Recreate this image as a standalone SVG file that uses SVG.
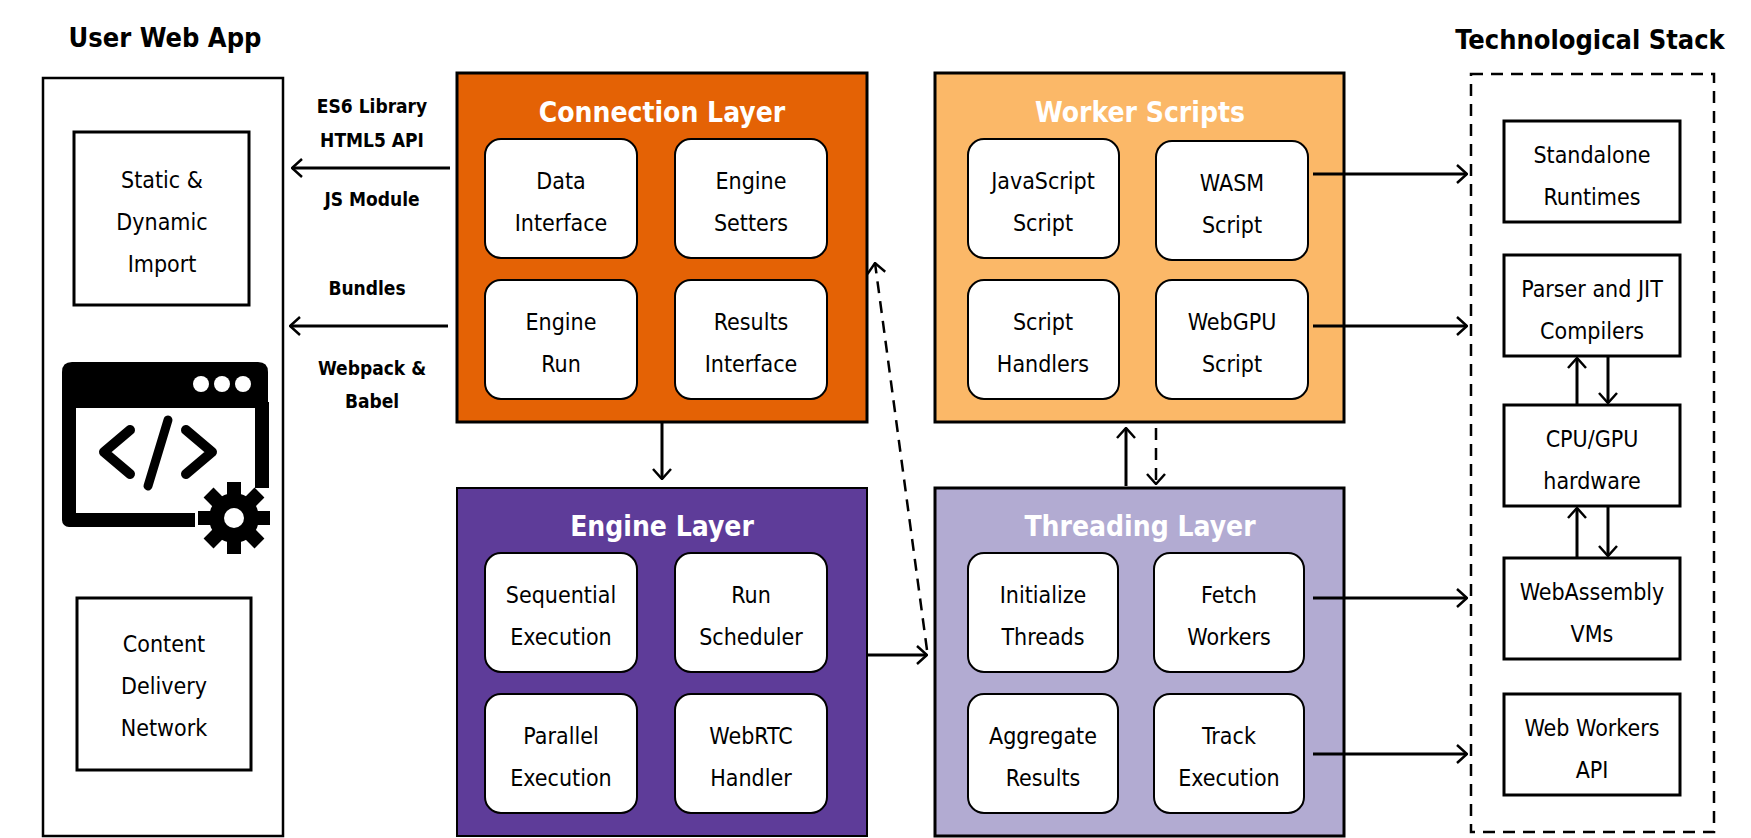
<svg xmlns="http://www.w3.org/2000/svg" width="1751" height="838" viewBox="0 0 1751 838">
<defs>
<marker id="ah" viewBox="0 0 12 20" refX="11" refY="10" markerWidth="12" markerHeight="20" markerUnits="userSpaceOnUse" orient="auto"><path d="M1,1 L11,10 L1,19" fill="none" stroke="#000" stroke-width="2.5"/></marker>
</defs>
<style>
text{font-family:"DejaVu Sans","Liberation Sans",sans-serif;font-stretch:condensed;text-anchor:middle;}
.h{font-size:27px;font-weight:bold;}
.t{font-size:28px;font-weight:bold;fill:#fff;}
.n{font-size:23px;fill:#000;}
.l{font-size:19px;font-weight:bold;}
.inner{fill:#fff;stroke:#000;stroke-width:2;}
.box{fill:#fff;stroke:#000;stroke-width:3;}
.c{fill:none;stroke:#000;stroke-width:3;}
.d{fill:none;stroke:#000;stroke-width:2.5;stroke-dasharray:12,8;}
</style>
<rect width="1751" height="838" fill="#fff"/>
<text class="h" x="165" y="47">User Web App</text>
<text class="h" x="1590" y="49">Technological Stack</text>

<g id="userapp">
<rect x="43" y="78" width="240" height="758" fill="#fff" stroke="#000" stroke-width="2.5"/>
</g>
<g id="static"><rect class="box" x="74" y="132" width="175" height="173"/>
<text class="n" x="162" y="188">Static &amp;</text><text class="n" x="162" y="230">Dynamic</text><text class="n" x="162" y="272">Import</text></g>
<g id="icon">
<path d="M72,362 L258,362 Q268,362 268,372 L268,408 L62,408 L62,372 Q62,362 72,362 Z" fill="#000"/>
<path d="M69,402 L69,520 L195,520" fill="none" stroke="#000" stroke-width="14" stroke-linejoin="round"/>
<path d="M262,402 L262,488" fill="none" stroke="#000" stroke-width="14"/>
<circle cx="201" cy="384" r="8" fill="#fff"/><circle cx="222" cy="384" r="8" fill="#fff"/><circle cx="243" cy="384" r="8" fill="#fff"/>
<path d="M130,430 L104,452 L130,474" fill="none" stroke="#000" stroke-width="10" stroke-linejoin="round" stroke-linecap="round"/>
<path d="M186,430 L212,452 L186,474" fill="none" stroke="#000" stroke-width="10" stroke-linejoin="round" stroke-linecap="round"/>
<path d="M168,420 L148,486" fill="none" stroke="#000" stroke-width="9" stroke-linecap="round"/>
<g transform="translate(234,518)">
<circle r="25" fill="#000"/>
<g fill="#000"><rect x="-7" y="-36" width="14" height="14"/><rect x="-7" y="22" width="14" height="14"/><rect x="-36" y="-7" width="14" height="14"/><rect x="22" y="-7" width="14" height="14"/>
<rect x="-7" y="-36" width="14" height="14" transform="rotate(45)"/><rect x="-7" y="22" width="14" height="14" transform="rotate(45)"/><rect x="-36" y="-7" width="14" height="14" transform="rotate(45)"/><rect x="22" y="-7" width="14" height="14" transform="rotate(45)"/></g>
<circle r="10" fill="#fff"/></g>
</g>
<g id="cdn"><rect class="box" x="77" y="598" width="174" height="172"/>
<text class="n" x="164" y="652">Content</text><text class="n" x="164" y="694">Delivery</text><text class="n" x="164" y="736">Network</text></g>

<g id="connection">
<rect x="457" y="73" width="410" height="349" fill="#E46205" stroke="#000" stroke-width="3"/>
<text class="t" x="662" y="122">Connection Layer</text>
<rect class="inner" x="485" y="139" width="152" height="119" rx="16"/><text class="n" x="561" y="189">Data</text><text class="n" x="561" y="231">Interface</text>
<rect class="inner" x="675" y="139" width="152" height="119" rx="16"/><text class="n" x="751" y="189">Engine</text><text class="n" x="751" y="231">Setters</text>
<rect class="inner" x="485" y="280" width="152" height="119" rx="16"/><text class="n" x="561" y="330">Engine</text><text class="n" x="561" y="372">Run</text>
<rect class="inner" x="675" y="280" width="152" height="119" rx="16"/><text class="n" x="751" y="330">Results</text><text class="n" x="751" y="372">Interface</text>
</g>
<g id="engine">
<rect x="457" y="488" width="410" height="348" fill="#5E3C99" stroke="#000" stroke-width="2"/>
<text class="t" x="662" y="536">Engine Layer</text>
<rect class="inner" x="485" y="553" width="152" height="119" rx="16"/><text class="n" x="561" y="603">Sequential</text><text class="n" x="561" y="645">Execution</text>
<rect class="inner" x="675" y="553" width="152" height="119" rx="16"/><text class="n" x="751" y="603">Run</text><text class="n" x="751" y="645">Scheduler</text>
<rect class="inner" x="485" y="694" width="152" height="119" rx="16"/><text class="n" x="561" y="744">Parallel</text><text class="n" x="561" y="786">Execution</text>
<rect class="inner" x="675" y="694" width="152" height="119" rx="16"/><text class="n" x="751" y="744">WebRTC</text><text class="n" x="751" y="786">Handler</text>
</g>
<g id="worker">
<rect x="935" y="73" width="409" height="349" fill="#FBB868" stroke="#000" stroke-width="3"/>
<text class="t" x="1140" y="122">Worker Scripts</text>
<rect class="inner" x="968" y="139" width="151" height="119" rx="16"/><text class="n" x="1043" y="189">JavaScript</text><text class="n" x="1043" y="231">Script</text>
<rect class="inner" x="1156" y="141" width="152" height="119" rx="16"/><text class="n" x="1232" y="191">WASM</text><text class="n" x="1232" y="233">Script</text>
<rect class="inner" x="968" y="280" width="151" height="119" rx="16"/><text class="n" x="1043" y="330">Script</text><text class="n" x="1043" y="372">Handlers</text>
<rect class="inner" x="1156" y="280" width="152" height="119" rx="16"/><text class="n" x="1232" y="330">WebGPU</text><text class="n" x="1232" y="372">Script</text>
</g>
<g id="threading">
<rect x="935" y="488" width="409" height="348" fill="#B2ABD2" stroke="#000" stroke-width="3"/>
<text class="t" x="1140" y="536">Threading Layer</text>
<rect class="inner" x="968" y="553" width="150" height="119" rx="16"/><text class="n" x="1043" y="603">Initialize</text><text class="n" x="1043" y="645">Threads</text>
<rect class="inner" x="1154" y="553" width="150" height="119" rx="16"/><text class="n" x="1229" y="603">Fetch</text><text class="n" x="1229" y="645">Workers</text>
<rect class="inner" x="968" y="694" width="150" height="119" rx="16"/><text class="n" x="1043" y="744">Aggregate</text><text class="n" x="1043" y="786">Results</text>
<rect class="inner" x="1154" y="694" width="150" height="119" rx="16"/><text class="n" x="1229" y="744">Track</text><text class="n" x="1229" y="786">Execution</text>
</g>
<g id="stack">
<rect x="1471" y="74" width="243" height="758" fill="none" stroke="#000" stroke-width="2.5" stroke-dasharray="12,8"/>
</g>
<g id="standalone"><rect class="box" x="1504" y="121" width="176" height="101"/><text class="n" x="1592" y="163">Standalone</text><text class="n" x="1592" y="205">Runtimes</text></g>
<g id="parser"><rect class="box" x="1504" y="255" width="176" height="101"/><text class="n" x="1592" y="297">Parser and JIT</text><text class="n" x="1592" y="339">Compilers</text></g>
<g id="cpu"><rect class="box" x="1504" y="405" width="176" height="101"/><text class="n" x="1592" y="447">CPU/GPU</text><text class="n" x="1592" y="489">hardware</text></g>
<g id="wasmvm"><rect class="box" x="1504" y="558" width="176" height="101"/><text class="n" x="1592" y="600">WebAssembly</text><text class="n" x="1592" y="642">VMs</text></g>
<g id="webworkers"><rect class="box" x="1504" y="694" width="176" height="101"/><text class="n" x="1592" y="736">Web Workers</text><text class="n" x="1592" y="778">API</text></g>

<g id="connectors">
<path class="c" d="M450,168 L292,168" marker-end="url(#ah)"/>
<path class="c" d="M448,326 L290,326" marker-end="url(#ah)"/>
<path class="c" d="M662,422 L662,479" stroke-width="2.5" marker-end="url(#ah)"/>
<path class="c" d="M867,655 L927,655" marker-end="url(#ah)"/>
<path class="d" d="M927,650 L875,263" marker-end="url(#ah)"/>
<path class="c" d="M1126,486 L1126,428" stroke-width="2.5" marker-end="url(#ah)"/>
<path class="d" d="M1156,428 L1156,484" marker-end="url(#ah)"/>
<path class="c" d="M1313,174 L1467,174" marker-end="url(#ah)"/>
<path class="c" d="M1313,326 L1467,326" marker-end="url(#ah)"/>
<path class="c" d="M1313,598 L1467,598" marker-end="url(#ah)"/>
<path class="c" d="M1313,754 L1467,754" marker-end="url(#ah)"/>
<path class="c" d="M1577,405 L1577,358" stroke-width="2.5" marker-end="url(#ah)"/>
<path class="c" d="M1608,356 L1608,403" stroke-width="2.5" marker-end="url(#ah)"/>
<path class="c" d="M1577,558 L1577,508" stroke-width="2.5" marker-end="url(#ah)"/>
<path class="c" d="M1608,506 L1608,556" stroke-width="2.5" marker-end="url(#ah)"/>
<text class="l" x="372" y="113">ES6 Library</text>
<text class="l" x="372" y="147">HTML5 API</text>
<text class="l" x="372" y="206">JS Module</text>
<text class="l" x="367" y="295">Bundles</text>
<text class="l" x="372" y="375">Webpack &amp;</text>
<text class="l" x="372" y="408">Babel</text>
</g>
</svg>
